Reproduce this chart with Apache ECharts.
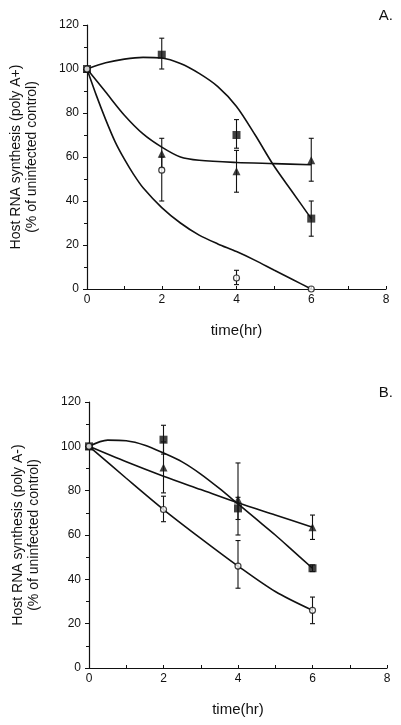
<!DOCTYPE html>
<html>
<head>
<meta charset="utf-8">
<script src="https://cdn.jsdelivr.net/npm/echarts@6/dist/echarts.min.js"></script>
<style>
html,body{margin:0;padding:0;background:#fff;}
#chart{width:401px;height:725px;}
</style>
</head>
<body>
<div id="chart"></div>
<script>
// ---- Data ----
const times = [0, 2, 4, 6];

// Panel A (poly A+)
const aSquare      = [100, 106.5, 70, 32];
const aSquareLo    = [null, 100, 64, 24];
const aSquareHi    = [null, 114, 77, 40];
const aTriangle    = [100, 61.5, 53.5, 58.5];
const aTriangleLo  = [null, 55, 44, 49];
const aTriangleHi  = [null, 68.5, 63, 68.5];
const aCircle      = [100, 54, 5, 0];
const aCircleLo    = [null, 40, 2, null];
const aCircleHi    = [null, 60, 8.5, null];

const aSquareFitX   = [0, 0.5, 1, 1.5, 2, 2.5, 3, 3.5, 4, 4.5, 5, 5.5, 6];
const aSquareFitY   = [100, 102.8, 104.5, 105.3, 105, 102.5, 98, 92, 83, 70, 56, 44, 32];
const aTriangleFitX = [0, 0.5, 1, 1.5, 2, 2.5, 3, 4, 5, 6];
const aTriangleFitY = [100, 89.5, 79, 70.5, 64.5, 60, 58.5, 57.5, 57, 56.5];
const aCircleFitX   = [0, 0.25, 0.5, 0.75, 1, 1.25, 1.5, 2, 2.5, 3, 3.5, 4, 4.5, 5, 5.5, 6];
const aCircleFitY   = [100, 88, 77, 67, 59, 52, 46, 37, 30, 24.5, 20.5, 17, 13, 8.6, 4.3, 0];

// Panel B (poly A-)
const bSquare      = [100, 103, 72, 45];
const bSquareLo    = [null, 96.5, 67, 43.5];
const bSquareHi    = [null, 109.5, 77, 46.5];
const bTriangle    = [100, 90.5, 76, 63.5];
const bTriangleLo  = [null, 79, 60, 58];
const bTriangleHi  = [null, 102, 92.5, 69];
const bCircle      = [100, 71.5, 46, 26];
const bCircleLo    = [null, 66, 36, 20];
const bCircleHi    = [null, 77.5, 57.5, 32];

const bSquareFitX   = [0, 0.5, 1, 1.5, 2, 2.5, 3, 3.5, 4, 4.5, 5, 5.5, 6];
const bSquareFitY   = [100, 102.8, 102.5, 100.5, 97, 93, 87.5, 81, 74, 67, 60, 52.5, 45];
const bTriangleFitX = [0, 1, 2, 3, 4, 5, 6];
const bTriangleFitY = [100, 93, 86.5, 80.5, 74.5, 69, 63.5];
const bCircleFitX   = [0, 1, 2, 3, 4, 5, 6];
const bCircleFitY   = [100, 85.6, 71.5, 58.5, 46, 34.5, 26];

// Axis ticks
const xMin = 0, xMax = 8, xStep = 2;
const yMin = 0, yMax = 120, yStep = 20;
const panelLetters = ['A.', 'B.'];
const yTitles = ['Host RNA synthesis (poly A+)\n(% of uninfected control)',
                 'Host RNA synthesis (poly A-)\n(% of uninfected control)'];
const xTitle = 'time(hr)';

// ---- Helpers ----
const FONT = '"Liberation Sans", Arial, sans-serif';
const zip = (xs, ys) => xs.map((x, i) => [x, ys[i]]);
const errData = (lo, hi) => times.map((t, i) => lo[i] == null ? null : [t, lo[i], hi[i]]).filter(d => d);

function errSeries(lo, hi, idx) {
  return {
    type: 'custom', xAxisIndex: idx, yAxisIndex: idx, z: 2, silent: true,
    data: errData(lo, hi),
    renderItem: function (params, api) {
      const x = api.value(0);
      const p1 = api.coord([x, api.value(1)]);
      const p2 = api.coord([x, api.value(2)]);
      const st = { stroke: '#111', lineWidth: 1.1 };
      const c = 2.5;
      return {
        type: 'group',
        children: [
          { type: 'line', shape: { x1: p1[0], y1: p1[1], x2: p2[0], y2: p2[1] }, style: st },
          { type: 'line', shape: { x1: p1[0] - c, y1: p1[1], x2: p1[0] + c, y2: p1[1] }, style: st },
          { type: 'line', shape: { x1: p2[0] - c, y1: p2[1], x2: p2[0] + c, y2: p2[1] }, style: st }
        ]
      };
    }
  };
}
function fitSeries(xs, ys, idx) {
  return {
    type: 'line', xAxisIndex: idx, yAxisIndex: idx, z: 1, silent: true,
    data: zip(xs, ys), smooth: 0.3, showSymbol: false, symbol: 'none',
    lineStyle: { color: '#111', width: 1.6 }
  };
}
function ptSeries(vals, idx, kind) {
  const sym = kind === 'square' ? 'rect' : kind === 'triangle' ? 'triangle' : 'circle';
  const size = kind === 'square' ? 8 : kind === 'triangle' ? 8 : 6;
  return {
    type: 'scatter', xAxisIndex: idx, yAxisIndex: idx, z: 3, silent: true,
    data: zip(times, vals), symbol: sym, symbolSize: size,
    itemStyle: kind === 'circle'
      ? { color: '#fff', borderColor: '#111', borderWidth: 1.2 }
      : { color: '#111' }
  };
}
function xAxisCfg(idx) {
  return {
    type: 'value', gridIndex: idx, min: xMin, max: xMax, interval: xStep,
    name: xTitle, nameLocation: 'middle', nameGap: 34,
    nameTextStyle: { fontFamily: FONT, fontSize: 15, color: '#111' },
    axisLine: { onZero: false, lineStyle: { color: '#111', width: 1.2 } },
    axisTick: { show: true, inside: true, length: 3, lineStyle: { color: '#111' } },
    minorTick: { show: true, splitNumber: 2, length: 3, lineStyle: { color: '#111' } },
    axisLabel: { fontFamily: FONT, fontSize: 12, color: '#111', margin: 5 },
    splitLine: { show: false }
  };
}
function yAxisCfg(idx) {
  return {
    type: 'value', gridIndex: idx, min: yMin, max: yMax, interval: yStep,
    name: yTitles[idx], nameLocation: 'middle', nameRotate: 90, nameGap: 47,
    nameTextStyle: { fontFamily: FONT, fontSize: 14, color: '#111', lineHeight: 16 },
    axisLine: { show: true, lineStyle: { color: '#111', width: 1.2 } },
    axisTick: { show: true, length: 4, lineStyle: { color: '#111' } },
    minorTick: { show: true, splitNumber: 2, length: 3, lineStyle: { color: '#111' } },
    axisLabel: { fontFamily: FONT, fontSize: 12, color: '#111', margin: 8 },
    splitLine: { show: false }
  };
}

const chart = echarts.init(document.getElementById('chart'), null, { renderer: 'canvas' });
chart.setOption({
  backgroundColor: '#fff',
  animation: false,
  title: [
    { text: panelLetters[0], right: 3, top: 3, textStyle: { fontFamily: FONT, fontSize: 15, fontWeight: 'normal', color: '#111' } },
    { text: panelLetters[1], right: 3, top: 380, textStyle: { fontFamily: FONT, fontSize: 15, fontWeight: 'normal', color: '#111' } }
  ],
  grid: [
    { left: 87, right: 15, top: 25, height: 264 },
    { left: 89, right: 14, top: 402, height: 266 }
  ],
  xAxis: [xAxisCfg(0), xAxisCfg(1)],
  yAxis: [yAxisCfg(0), yAxisCfg(1)],
  series: [
    fitSeries(aSquareFitX, aSquareFitY, 0),
    fitSeries(aTriangleFitX, aTriangleFitY, 0),
    fitSeries(aCircleFitX, aCircleFitY, 0),
    errSeries(aSquareLo, aSquareHi, 0),
    errSeries(aTriangleLo, aTriangleHi, 0),
    errSeries(aCircleLo, aCircleHi, 0),
    ptSeries(aSquare, 0, 'square'),
    ptSeries(aTriangle, 0, 'triangle'),
    ptSeries(aCircle, 0, 'circle'),
    fitSeries(bSquareFitX, bSquareFitY, 1),
    fitSeries(bTriangleFitX, bTriangleFitY, 1),
    fitSeries(bCircleFitX, bCircleFitY, 1),
    errSeries(bSquareLo, bSquareHi, 1),
    errSeries(bTriangleLo, bTriangleHi, 1),
    errSeries(bCircleLo, bCircleHi, 1),
    ptSeries(bSquare, 1, 'square'),
    ptSeries(bTriangle, 1, 'triangle'),
    ptSeries(bCircle, 1, 'circle')
  ]
});
</script>
</body>
</html>
